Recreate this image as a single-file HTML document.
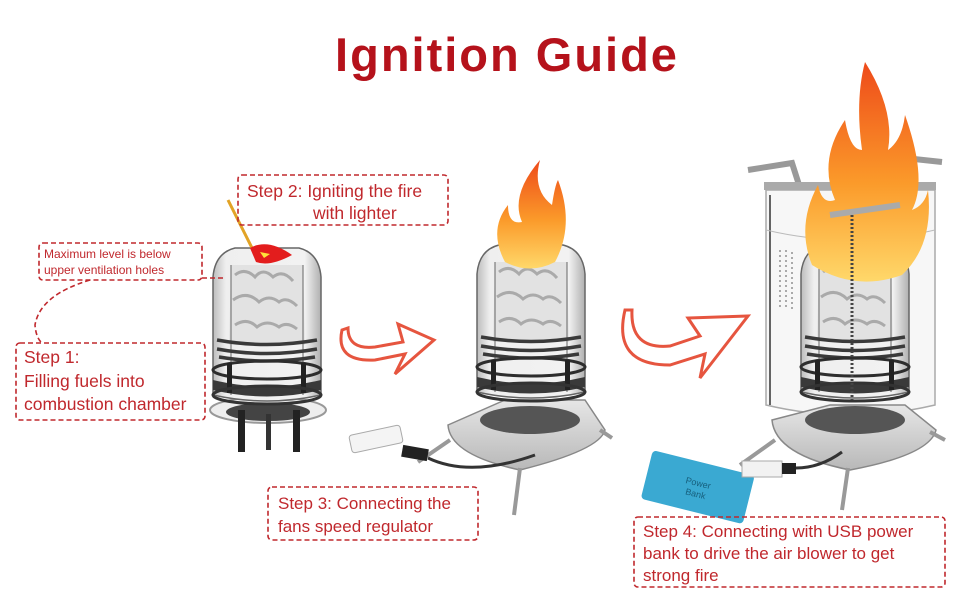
<!DOCTYPE html>
<html><head><meta charset="utf-8"><style>
html,body{margin:0;padding:0;background:#fff;}
svg{display:block}
text{font-family:"Liberation Sans","DejaVu Sans",sans-serif;fill:#c0282d}
</style></head><body>
<svg width="970" height="600" viewBox="0 0 970 600" xmlns="http://www.w3.org/2000/svg">
<defs>
<linearGradient id="glass" x1="0" x2="1"><stop offset="0" stop-color="#bdbdbd"/><stop offset="0.12" stop-color="#efefef"/><stop offset="0.85" stop-color="#f2f2f2"/><stop offset="1" stop-color="#b0b0b0"/></linearGradient>
<linearGradient id="fire" x1="0" y1="1" x2="0" y2="0"><stop offset="0" stop-color="#ffd86a"/><stop offset="0.45" stop-color="#fb9a2a"/><stop offset="1" stop-color="#ee4a1a"/></linearGradient>
<linearGradient id="plate" x1="0" x2="0" y1="0" y2="1"><stop offset="0" stop-color="#e6e6e6"/><stop offset="1" stop-color="#b8b8b8"/></linearGradient>
<g id="stove">
<path d="M0 32 Q2 8 22 3 L86 3 Q106 8 108 32 L108 150 Q54 162 0 150 Z" fill="url(#glass)" stroke="#666" stroke-width="1.5"/>
<path d="M18 20 L90 20 L92 100 L16 100 Z" fill="#e2e2e2"/>
<path d="M22 30 q10 -8 20 2 q8 -10 18 0 q10 -8 20 4 M20 55 q14 -10 26 2 q10 -8 20 0 q8 -6 18 4 M22 80 q12 -8 22 2 q10 -8 22 0 q8 -6 18 2" stroke="#aaa" stroke-width="3" fill="none"/>
<line x1="18" y1="20" x2="18" y2="150" stroke="#666"/><line x1="90" y1="20" x2="90" y2="150" stroke="#666"/>
<path d="M4 95 Q54 104 104 95 M4 104 Q54 113 104 104 M6 112 Q54 120 102 112" stroke="#3a3a3a" stroke-width="3.5" fill="none"/>
<ellipse cx="54" cy="125" rx="54" ry="9" fill="none" stroke="#2d2d2d" stroke-width="3"/>
<path d="M0 135 Q54 148 108 135 L108 145 Q54 158 0 145 Z" fill="#3a3a3a"/>
<rect x="14" y="118" width="5" height="30" fill="#222"/><rect x="88" y="118" width="5" height="30" fill="#222"/>
<ellipse cx="54" cy="150" rx="54" ry="9" fill="none" stroke="#333" stroke-width="3"/>
</g>
</defs>
<text x="507" y="71" text-anchor="middle" font-size="47" font-weight="bold" style="fill:#b5121b;letter-spacing:2px">Ignition Guide</text>

<!-- Stove 1 -->
<ellipse cx="268" cy="410" rx="58" ry="13" fill="#eee" stroke="#999" stroke-width="2"/>
<ellipse cx="268" cy="412" rx="42" ry="9" fill="#444"/>
<rect x="238" y="410" width="7" height="42" fill="#222"/><rect x="293" y="410" width="7" height="42" fill="#222"/><rect x="266" y="414" width="5" height="36" fill="#333"/>
<use href="#stove" x="213" y="245"/>
<line x1="228" y1="200" x2="254" y2="252" stroke="#e2a326" stroke-width="3"/>
<path d="M250 248 Q268 238 292 255 Q270 267 256 262 Z" fill="#e31d1d"/>
<path d="M260 252 l10 2 l-6 4 Z" fill="#ffe23a"/>

<!-- Stove 2 -->
<path d="M448 425 L505 400 L585 400 L605 430 Q600 450 520 470 Q450 455 448 425 Z" fill="url(#plate)" stroke="#888" stroke-width="1.5"/>
<ellipse cx="530" cy="420" rx="50" ry="14" fill="#555"/>
<path d="M520 468 L514 515 M450 440 L418 462 M600 430 L612 438" stroke="#999" stroke-width="4"/>
<use href="#stove" x="477" y="242"/>
<path d="M505 262 Q488 230 508 205 Q508 225 522 222 Q510 195 540 160 Q532 190 552 205 Q555 185 558 180 Q575 225 555 262 Q530 275 505 262 Z" fill="url(#fire)"/>
<rect x="350" y="430" width="52" height="18" rx="3" fill="#f4f4f4" stroke="#aaa" transform="rotate(-12 376 439)"/>
<rect x="402" y="447" width="26" height="12" fill="#222" transform="rotate(10 415 453)"/>
<path d="M428 458 Q470 478 535 455" stroke="#333" stroke-width="3" fill="none"/>

<!-- Stove 3 -->
<path d="M766 190 L935 190 L935 405 Q850 425 766 405 Z" fill="#f4f4f4" fill-opacity="0.7" stroke="#aaa" stroke-width="1.5"/>
<line x1="770" y1="195" x2="770" y2="405" stroke="#333" stroke-width="1.5"/>
<path d="M766 230 Q850 250 935 230" stroke="#bbb" fill="none"/>
<path d="M780 250 v60 M786 250 v60 M792 252 v60" stroke="#aaa" stroke-width="2" stroke-dasharray="2,3"/>
<path d="M748 170 L792 163 L800 188 M942 162 L905 158 L898 188" stroke="#999" stroke-width="6" fill="none"/>
<rect x="764" y="182" width="172" height="8" fill="#aaa"/>
<path d="M772 420 L830 405 L905 405 L936 430 Q930 455 850 470 Q775 455 772 420 Z" fill="url(#plate)" stroke="#888" stroke-width="1.5"/>
<ellipse cx="855" cy="420" rx="50" ry="14" fill="#555"/>
<path d="M775 440 L740 465 M848 468 L842 510 M930 432 L945 440" stroke="#999" stroke-width="4"/>
<use href="#stove" x="801" y="242"/>
<path d="M812 265 Q796 225 818 185 Q822 205 835 200 Q818 160 845 120 Q850 150 862 150 Q855 100 865 62 Q895 110 888 150 Q902 140 905 115 Q928 180 912 210 Q925 205 928 190 Q934 245 902 275 Q855 292 812 265 Z" fill="url(#fire)"/>
<path d="M830 215 L900 205" stroke="#aaa" stroke-width="6"/>
<line x1="852" y1="215" x2="852" y2="400" stroke="#444" stroke-width="3" stroke-dasharray="2,2"/>
<g transform="rotate(14 697 488)">
<rect x="645" y="462" width="105" height="50" rx="4" fill="#3aa9d2"/>
<text x="697" y="486" font-size="9" text-anchor="middle" style="fill:#17607e">Power</text>
<text x="697" y="497" font-size="9" text-anchor="middle" style="fill:#17607e">Bank</text>
</g>
<rect x="742" y="461" width="40" height="16" fill="#f2f2f2" stroke="#aaa"/>
<rect x="782" y="463" width="14" height="11" fill="#222"/>
<path d="M796 468 Q820 468 842 452" stroke="#333" stroke-width="3" fill="none"/>

<!-- arrows -->
<path d="M342 330 Q335 362 375 360 L405 354 L395 374 L434 340 L398 324 L403 342 L375 347 Q348 350 348 328 Z" fill="#fff" stroke="#e6553f" stroke-width="3"/>
<path d="M625 310 Q612 365 670 365 L705 354 L700 378 L748 316 L688 318 L700 336 L670 346 Q630 350 632 310 Z" fill="#fff" stroke="#e6553f" stroke-width="3"/>

<!-- labels -->
<g fill="none" stroke="#c0282d" stroke-width="1.6" stroke-dasharray="5,3">
<rect x="238" y="175" width="210" height="50" rx="4"/>
<rect x="39" y="243" width="163" height="37" rx="4"/>
<rect x="16" y="343" width="189" height="77" rx="4"/>
<rect x="268" y="487" width="210" height="53" rx="4"/>
<rect x="634" y="517" width="311" height="70" rx="4"/>
<path d="M202 278 L226 278 M90 280 Q40 295 35 325 Q36 338 42 343"/>
</g>
<text x="247" y="197" font-size="17.5">Step 2: Igniting the fire</text>
<text x="313" y="219" font-size="17.5">with lighter</text>
<text x="44" y="258" font-size="12">Maximum level is  below</text>
<text x="44" y="274" font-size="12">upper ventilation holes</text>
<text x="24" y="363" font-size="17.5">Step 1:</text>
<text x="24" y="387" font-size="17.5">Filling fuels into</text>
<text x="24" y="410" font-size="17.5">combustion chamber</text>
<text x="278" y="509" font-size="17">Step 3: Connecting the</text>
<text x="278" y="532" font-size="17">fans speed regulator</text>
<text x="643" y="537" font-size="17">Step 4: Connecting with USB power</text>
<text x="643" y="559" font-size="17">bank to drive the air blower to get</text>
<text x="643" y="581" font-size="17">strong fire</text>
</svg>
</body></html>
